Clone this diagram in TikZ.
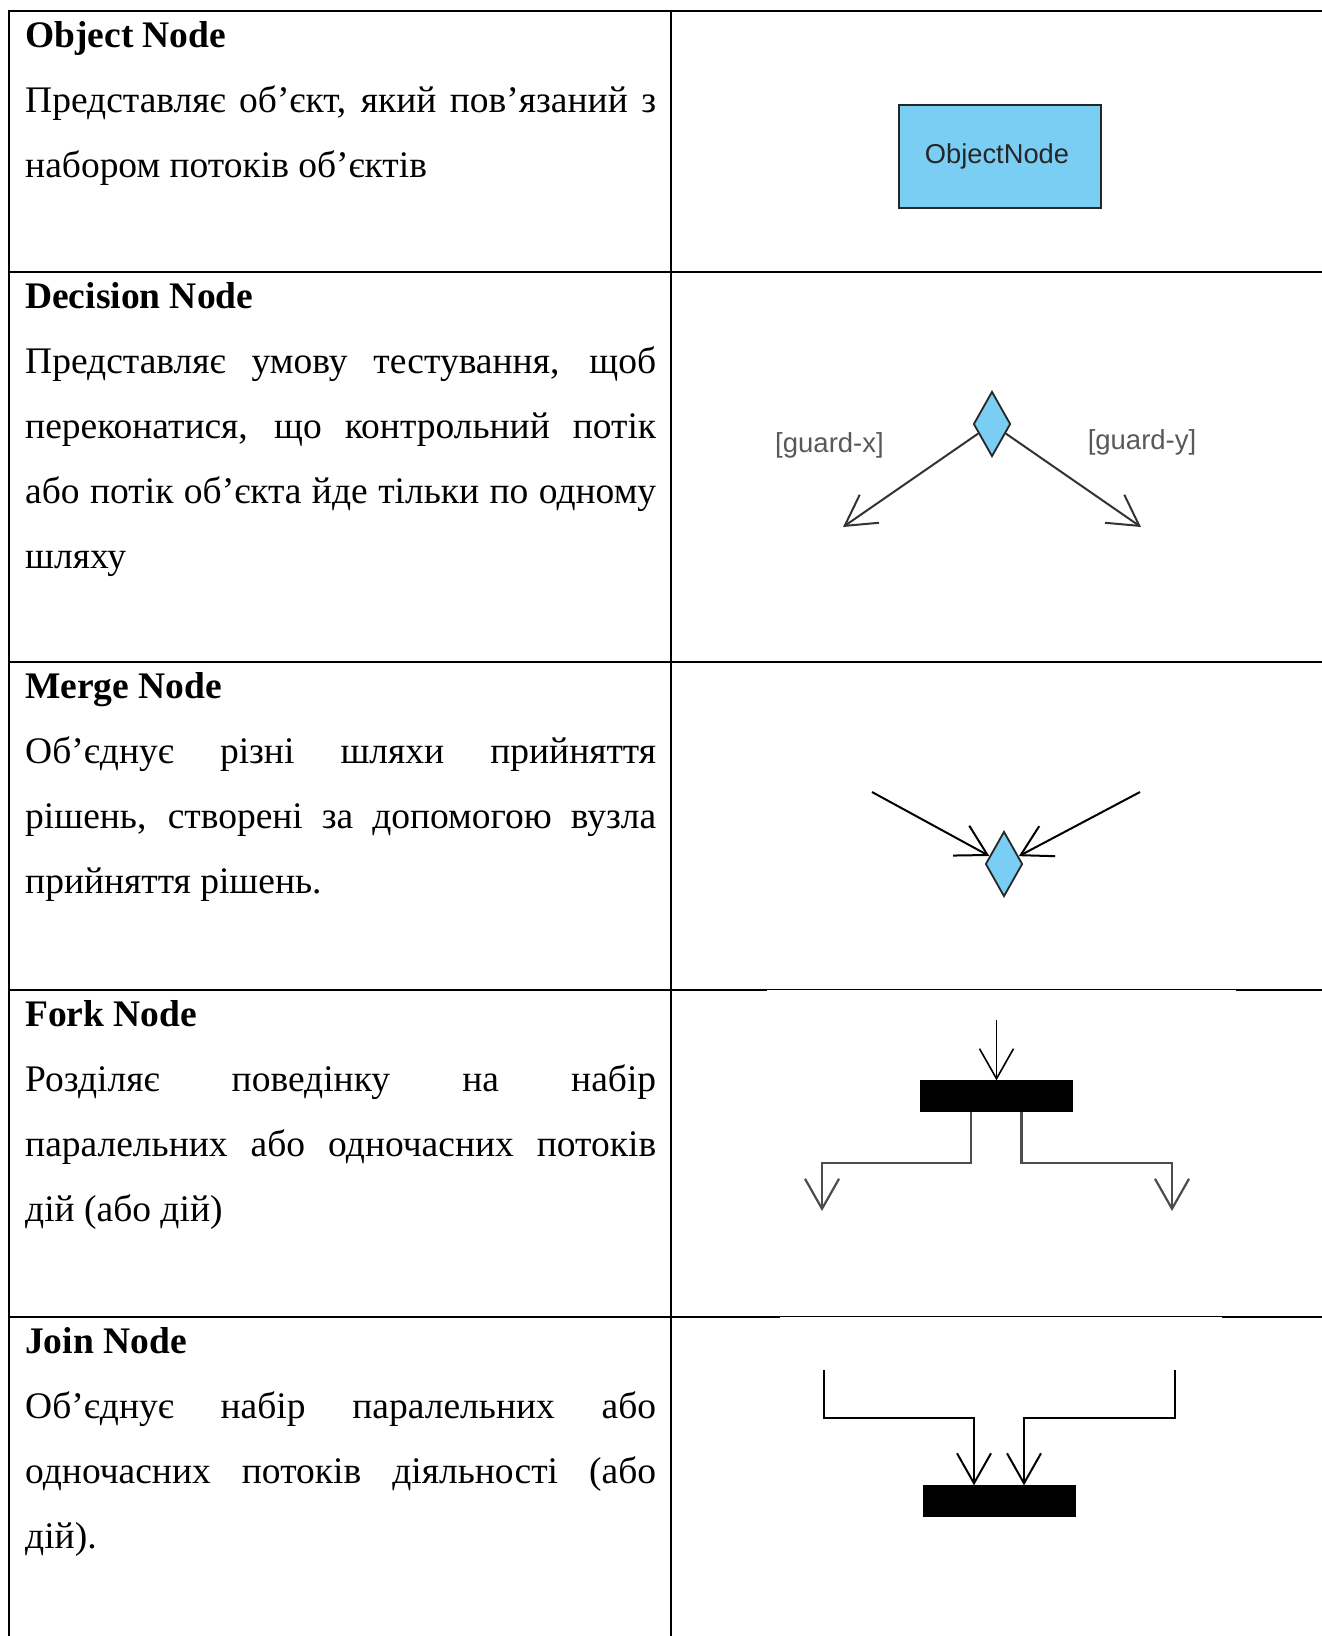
\documentclass[tikz,border=0pt]{standalone}
\usepackage{fontspec}
\setmainfont{Liberation Serif}
\newfontfamily\uisans{Liberation Sans}
\usetikzlibrary{arrows.meta, positioning, shapes.geometric}
\definecolor{umlblue}{RGB}{122,206,243}
\tolerance=10000
\hyphenpenalty=10000

\begin{document}
\begin{tikzpicture}[x=1pt, y=-1pt,
        cell/.style={anchor=base west, inner sep=0pt, text width=631pt, align=justify,
            font=\fontsize{37.5}{65}\selectfont},
        grid/.style={line width=2pt},
        bluebox/.style={fill=umlblue, draw=black!85, line width=1.8pt},
        choice/.style={bluebox, diamond, minimum width=37pt, minimum height=65pt, inner sep=0pt},
        bar/.style={fill=black, draw=black, minimum width=152pt, minimum height=31pt, inner sep=0pt},
        flow/.style={-{Straight Barb[length=30pt, width=34pt]}, line width=2pt},
        guard/.style={font=\uisans\fontsize{27.5}{30}\selectfont, text=black!65, inner sep=0pt}]
        \useasboundingbox (0,0) rectangle (1322,1636);
        \fill[white] (0,0) rectangle (1322,1636);

        % Draw table
        \draw[grid] (8.5,10.5) -- (1322,10.5);
        \draw[grid] (8.5,9.5) -- (8.5,1636);
        \draw[grid] (671,9.5) -- (671,1636);
        \foreach \y in {271.5, 661.5}
            \draw[grid] (8.5,\y) -- (1322,\y);
        \draw[grid] (8.5,989.5) -- (767,989.5);
        \draw[line width=1pt] (767,989.5) -- (1236,989.5);
        \draw[grid] (1236,989.5) -- (1322,989.5);
        \draw[grid] (8.5,1316.5) -- (780,1316.5);
        \draw[line width=1pt] (780,1316.5) -- (1222,1316.5);
        \draw[grid] (1222,1316.5) -- (1322,1316.5);

        % Define the texts
        \node[cell] (objtext) at (25,47.5) {\textbf{Object Node}\par
            Представляє об’єкт, який пов’язаний з\linebreak
            набором потоків об’єктів};
        \node[cell] (dectext) at (25,308.5) {\textbf{Decision Node}\par
            Представляє умову тестування, щоб\linebreak
            переконатися, що контрольний потік\linebreak
            або потік об’єкта йде тільки по одному\linebreak
            шляху};
        \node[cell] (mergetext) at (25,698.5) {\textbf{Merge Node}\par
            Об’єднує різні шляхи прийняття\linebreak
            рішень, створені за допомогою вузла\linebreak
            прийняття рішень.};
        \node[cell] (forktext) at (25,1026.5) {\textbf{Fork Node}\par
            Розділяє поведінку на набір\linebreak
            паралельних або одночасних потоків\linebreak
            дій (або дій)};
        \node[cell] (jointext) at (25,1353.5) {\textbf{Join Node}\par
            Об’єднує набір паралельних або\linebreak
            одночасних потоків діяльності (або\linebreak
            дій).};

        % Object node
        \node[bluebox, minimum width=202pt, minimum height=103pt, inner sep=0pt,
            font=\uisans\fontsize{27.3}{30}\selectfont, text=black!85] (obj) at (1000,156.5) {ObjectNode\hspace*{6pt}};

        % Decision node
        \node[choice] (dec) at (992,424) {};
        \coordinate (gx) at (843,527);
        \coordinate (gy) at (1141,527);
        \draw[flow, draw=black!80] (dec) -- (gx);
        \draw[flow, draw=black!80] (dec) -- (gy);
        \node[guard] (gxlabel) at (829.5,445) {[guard-x]};
        \node[guard] (gylabel) at (1142,442) {[guard-y]};

        % Merge node
        \node[choice] (merge) at (1004,864) {};
        \coordinate (mleft) at (872,792);
        \coordinate (mright) at (1140,792);
        \draw[flow] (mleft) -- (merge);
        \draw[flow] (mright) -- (merge);

        % Fork node
        \node[bar] (fork) at (996.5,1096) {};
        \coordinate (fin) at (996.5,1020);
        \coordinate (fl) at (822,1211);
        \coordinate (fr) at (1172,1211);
        \draw[flow, line width=1.6pt] (fin) -- (fork);
        \draw[flow, draw=black!70, line width=2.2pt] ([xshift=-25.5pt]fork.south) -- ++(0,51) -| (fl);
        \draw[flow, draw=black!70, line width=2.2pt] ([xshift=25pt]fork.south) -- ++(0,51) -| (fr);

        % Join node
        \node[bar] (join) at (999,1501) {};
        \coordinate (jl) at (824,1370);
        \coordinate (jr) at (1175,1370);
        \draw[flow] (jl) -- ++(0,47.5) -| ([xshift=-25pt]join.north);
        \draw[flow] (jr) -- ++(0,47.5) -| ([xshift=25pt]join.north);
\end{tikzpicture}
\end{document}
